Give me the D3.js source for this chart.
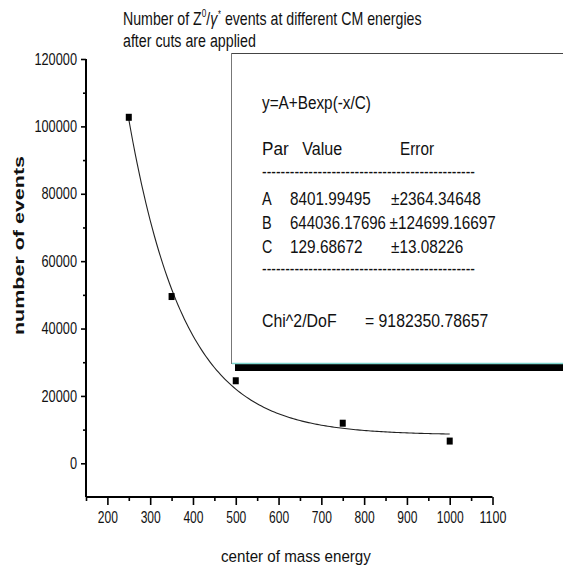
<!DOCTYPE html>
<html>
<head>
<meta charset="utf-8">
<script src="https://cdn.jsdelivr.net/npm/d3@7"></script>
<style>
  html, body { margin: 0; padding: 0; background: #fff; }
  svg { display: block; }
  text { font-family: "Liberation Sans", Arial, sans-serif; fill: #111; }
</style>
</head>
<body>
<svg id="chart" width="563" height="571"></svg>
<script>
// Measured event counts per centre-of-mass energy
const energies = [250, 350, 500, 750, 1000];
const events = [102700, 49500, 24500, 11900, 6600];

// Exponential fit y = A + B*exp(-x/C)
const fitA = 8401.99495;
const fitB = 644036.17696;
const fitC = 129.68672;
const fitErrA = 2364.34648;
const fitErrB = 124699.16697;
const fitErrC = 13.08226;
const chi2dof = 9182350.78657;

// Axis ticks
const xMajorTicks = [200, 300, 400, 500, 600, 700, 800, 900, 1000, 1100];
const xMinorTicks = [150, 250, 350, 450, 550, 650, 750, 850, 950, 1050];
const yMajorTicks = [0, 20000, 40000, 60000, 80000, 100000, 120000];
const yMinorTicks = [10000, 30000, 50000, 70000, 90000, 110000];

const svg = d3.select("#chart");

const x = d3.scaleLinear().domain([150, 1100]).range([86, 492.5]);
const y = d3.scaleLinear().domain([-10000, 120000]).range([497, 59]);

// Squeeze a horizontal text element so that it spans the given width
function fitWidth(sel, left, baseline, width) {
  const w = sel.node().getComputedTextLength();
  sel.attr("x", 0).attr("y", 0)
    .attr("transform", `translate(${left},${baseline}) scale(${width / w},1)`);
}

// Title
const title = svg.append("text").attr("font-size", 19);
title.append("tspan").text("Number of Z");
title.append("tspan").attr("font-size", 11).attr("dy", -8).text("0");
title.append("tspan").attr("dy", 8).text("/");
title.append("tspan").attr("font-style", "italic").text("γ");
title.append("tspan").attr("font-size", 10).attr("dx", 1).attr("dy", -7).text("*");
title.append("tspan").attr("dy", 7).text(" events at different CM energies");
fitWidth(title, 123, 25, 298);

const title2 = svg.append("text").attr("font-size", 19).text("after cuts are applied");
fitWidth(title2, 123, 47, 133);

// Axes
const yAxis = svg.append("g").attr("transform", `translate(${x(150)},0)`)
  .call(d3.axisLeft(y).tickValues(yMajorTicks).tickSize(5).tickPadding(4)
    .tickFormat(d3.format("d")));
svg.append("g").attr("transform", `translate(${x(150)},0)`)
  .call(d3.axisLeft(y).tickValues(yMinorTicks).tickSize(3).tickFormat(""))
  .select(".domain").remove();

const xAxis = svg.append("g").attr("transform", `translate(0,${y(-10000)})`)
  .call(d3.axisBottom(x).tickValues(xMajorTicks).tickSize(8).tickPadding(7)
    .tickFormat(d3.format("d")));
svg.append("g").attr("transform", `translate(0,${y(-10000)})`)
  .call(d3.axisBottom(x).tickValues(xMinorTicks).tickSize(4).tickFormat(""))
  .select(".domain").remove();

svg.selectAll(".domain").attr("stroke", "#000").attr("stroke-width", 2);
svg.selectAll(".tick line").attr("stroke", "#000").attr("stroke-width", 1.6);

yAxis.selectAll(".domain").attr("d", `M0,${y(-10000)}V${y(120000)}`);
xAxis.selectAll(".domain").attr("d", `M${x(150)},0H${x(1100)}`);

yAxis.selectAll(".tick text")
  .attr("font-size", 16).attr("fill", "#333").attr("font-family", null)
  .attr("textLength", d => String(d).length * 7.1)
  .attr("lengthAdjust", "spacingAndGlyphs");
xAxis.selectAll(".tick text")
  .attr("font-size", 16).attr("fill", "#333").attr("font-family", null)
  .attr("textLength", d => String(d).length * 6.7)
  .attr("lengthAdjust", "spacingAndGlyphs");

// Axis titles
const xTitle = svg.append("text").attr("font-size", 17).text("center of mass energy");
fitWidth(xTitle, 221, 562, 150);

svg.append("text")
  .attr("transform", "translate(23.5,245.5) scale(0.7,1) rotate(-90)")
  .attr("text-anchor", "middle")
  .attr("font-size", 21.5).attr("font-weight", "bold")
  .text("number of events");

// Fit curve
const curveXs = d3.range(energies[0], energies[energies.length - 1] + 1, 5);
const fitLine = d3.line()
  .x(d => x(d))
  .y(d => y(fitA + fitB * Math.exp(-d / fitC)));
svg.append("path")
  .attr("d", fitLine(curveXs))
  .attr("fill", "none").attr("stroke", "#222").attr("stroke-width", 1.1);

// Data markers
svg.append("g").selectAll("rect")
  .data(energies.map((e, i) => [e, events[i]]))
  .join("rect")
  .attr("x", d => x(d[0]) - 3)
  .attr("y", d => y(d[1]) - 3.5)
  .attr("width", 6).attr("height", 7)
  .attr("fill", "#000");

// Fit results box with drop shadow
const box = svg.append("g");
box.append("rect")
  .attr("x", 235).attr("y", 58).attr("width", 340).attr("height", 313)
  .attr("fill", "#000");
box.append("rect")
  .attr("x", 231.5).attr("y", 53.5).attr("width", 340).attr("height", 310)
  .attr("fill", "#fff").attr("stroke", "#777").attr("stroke-width", 1);
box.append("line")
  .attr("x1", 232).attr("x2", 563).attr("y1", 53.5).attr("y2", 53.5)
  .attr("stroke", "#444").attr("stroke-width", 1);
box.append("line")
  .attr("x1", 232).attr("x2", 563).attr("y1", 363.5).attr("y2", 363.5)
  .attr("stroke", "#7fd6cf").attr("stroke-width", 1.5);

const fmt5 = d3.format(".5f");
const boxLines = [
  { x: 262, y: 109, w: 109, t: "y=A+Bexp(-x/C)" },
  { x: 262, y: 155, w: 26.7, t: "Par" },
  { x: 302.3, y: 155, w: 40, t: "Value" },
  { x: 400, y: 155, w: 34, t: "Error" },
  { x: 262, y: 178, w: 213, t: "-".repeat(46) },
  { x: 262, y: 205, w: 9.7, t: "A" },
  { x: 290, y: 205, w: 80.7, t: fmt5(fitA) },
  { x: 391, y: 205, w: 90, t: "±" + fmt5(fitErrA) },
  { x: 262, y: 229.3, w: 9.7, t: "B" },
  { x: 290, y: 229.3, w: 96, t: fmt5(fitB) },
  { x: 389.5, y: 229.3, w: 106.2, t: "±" + fmt5(fitErrB) },
  { x: 262, y: 253.3, w: 10.3, t: "C" },
  { x: 290, y: 253.3, w: 72.7, t: fmt5(fitC) },
  { x: 391, y: 253.3, w: 72.3, t: "±" + fmt5(fitErrC) },
  { x: 262, y: 274.5, w: 213, t: "-".repeat(46) },
  { x: 262, y: 326.7, w: 74.7, t: "Chi^2/DoF" },
  { x: 365, y: 326.7, w: 123.3, t: "= " + fmt5(chi2dof) }
];
box.selectAll("text.fit")
  .data(boxLines)
  .join("text")
  .attr("class", "fit")
  .attr("font-size", 18.5)
  .text(d => d.t)
  .each(function (d) { fitWidth(d3.select(this), d.x, d.y, d.w); });
</script>
</body>
</html>
